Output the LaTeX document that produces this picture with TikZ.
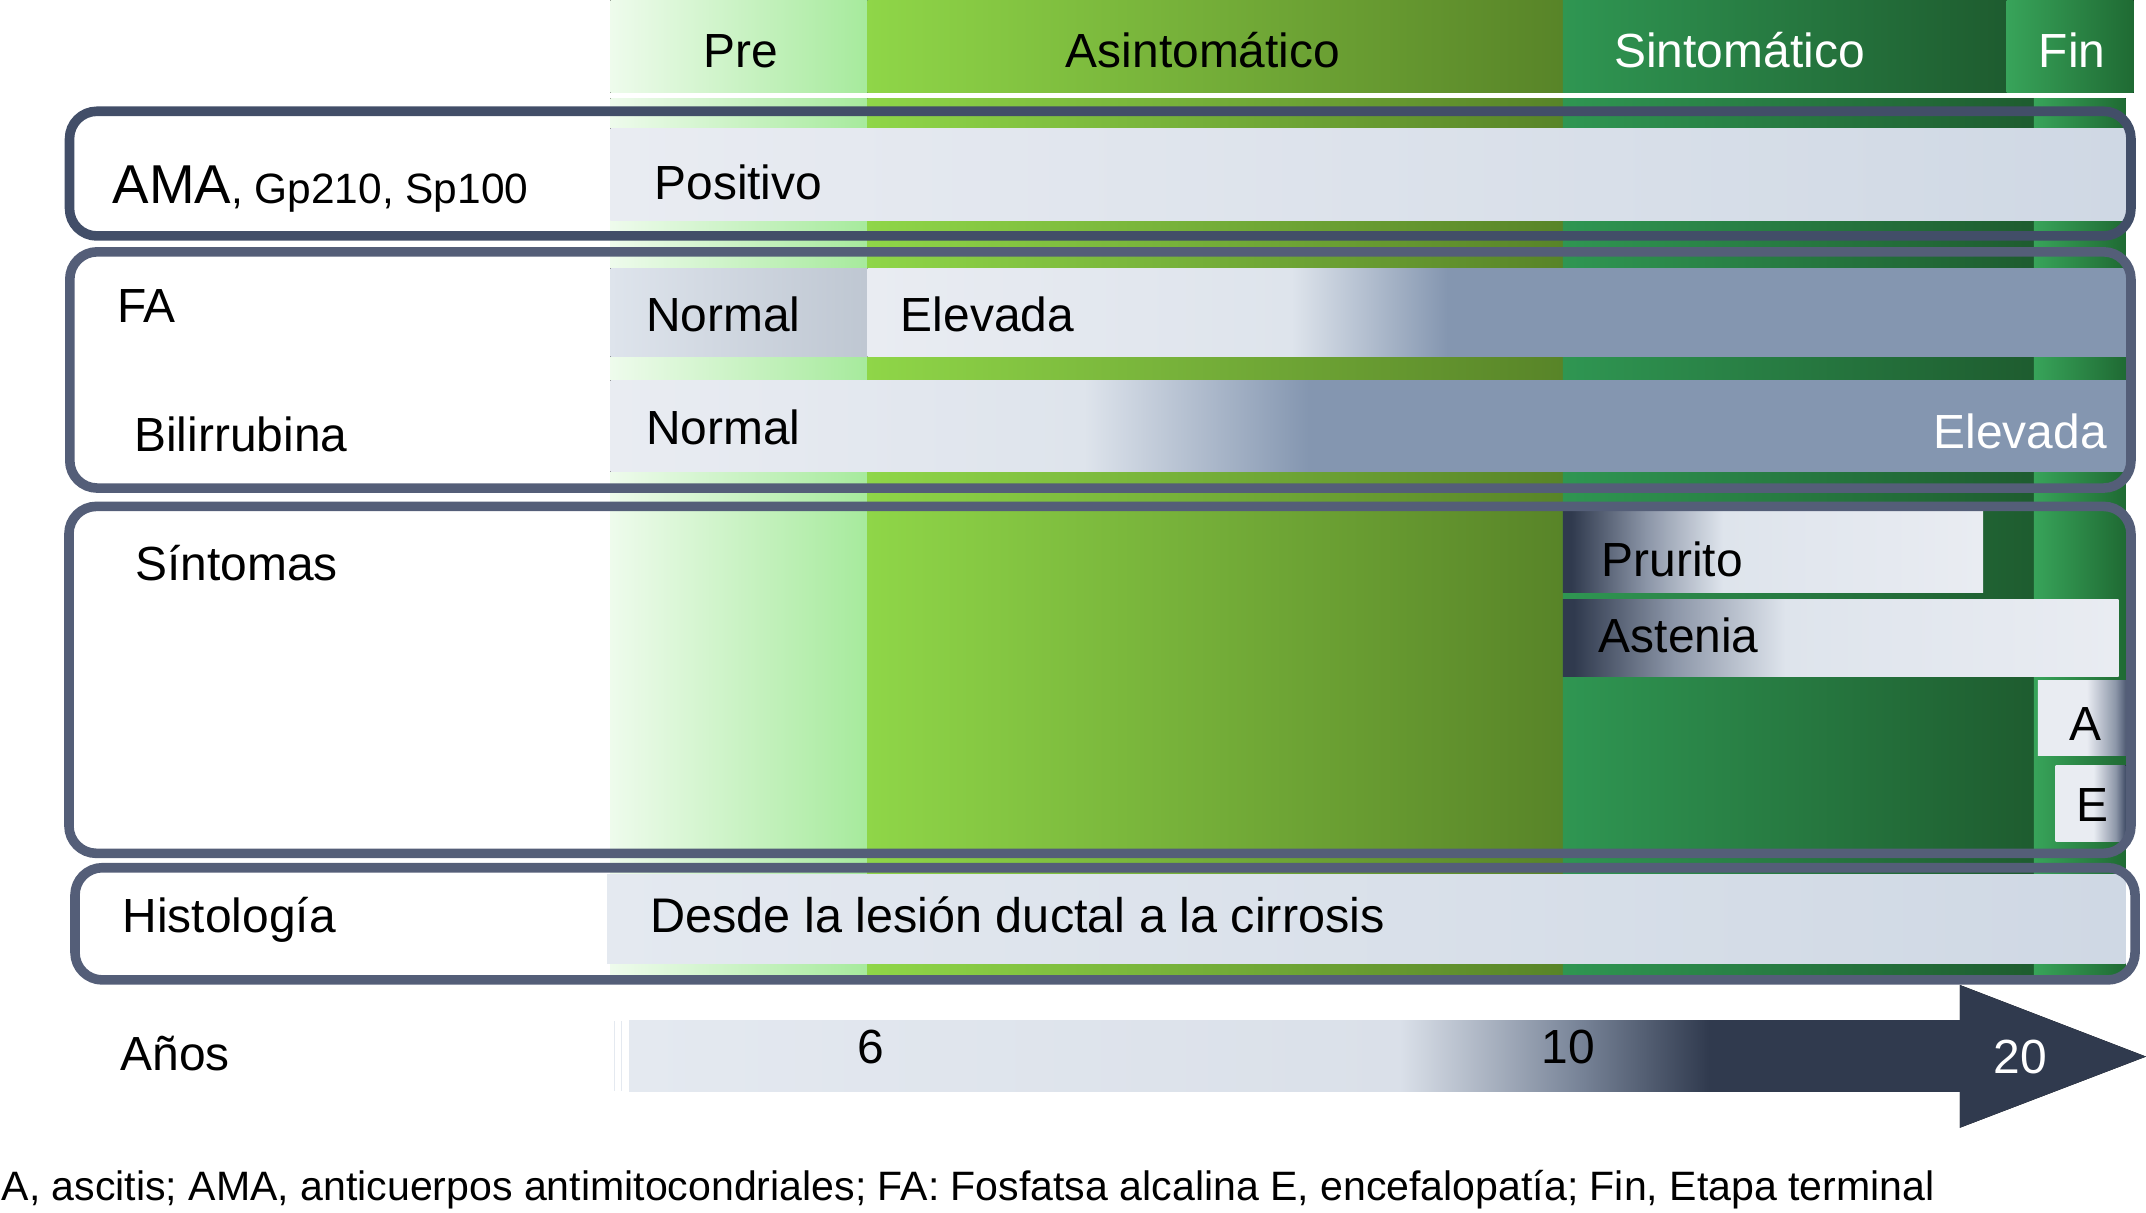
\documentclass[tikz,border=0pt]{standalone}
\usepackage{fontspec}
\setmainfont{Liberation Sans}
\definecolor{preL}{RGB}{238,251,236}
\definecolor{preR}{RGB}{166,234,156}
\definecolor{asL}{RGB}{143,214,72}
\definecolor{asR}{RGB}{88,132,40}
\definecolor{siL}{RGB}{47,150,82}
\definecolor{siR}{RGB}{30,92,47}
\definecolor{fiL}{RGB}{56,164,90}
\definecolor{fiR}{RGB}{31,106,51}
\definecolor{boxA}{RGB}{66,78,104}
\definecolor{boxB}{RGB}{84,94,120}
\definecolor{barA}{RGB}{233,236,242}
\definecolor{barB}{RGB}{207,216,228}
\definecolor{barC}{RGB}{222,228,236}
\definecolor{steel}{RGB}{132,150,176}
\definecolor{slate}{RGB}{48,58,78}
\definecolor{midg}{RGB}{140,150,168}
\definecolor{arL}{RGB}{228,233,240}
\definecolor{arM}{RGB}{218,224,233}
\definecolor{arMid}{RGB}{120,132,152}
\pgfdeclarehorizontalshading{faelev}{100bp}{color(0bp)=(barA); color(25bp)=(barA); color(41.8bp)=(barC); color(48bp)=(steel); color(100bp)=(steel)}
\pgfdeclarehorizontalshading{bilish}{100bp}{color(0bp)=(barA); color(25bp)=(barA); color(40.6bp)=(barC); color(48bp)=(steel); color(100bp)=(steel)}
\pgfdeclarehorizontalshading{prursh}{100bp}{color(0bp)=(slate); color(25bp)=(slate); color(26bp)=(slate); color(35bp)=(midg); color(44bp)=(barC); color(75bp)=(barA); color(100bp)=(barA)}
\pgfdeclarehorizontalshading{astsh}{100bp}{color(0bp)=(slate); color(25bp)=(slate); color(26bp)=(slate); color(35bp)=(midg); color(45bp)=(barC); color(75bp)=(barA); color(100bp)=(barA)}
\pgfdeclarehorizontalshading{aesh}{100bp}{color(0bp)=(barA); color(25bp)=(barA); color(52bp)=(barA); color(68bp)=(midg); color(75bp)=(boxA); color(100bp)=(boxA)}
\pgfdeclarehorizontalshading{arrsh}{100bp}{color(0bp)=(arL); color(25bp)=(arL); color(50.4bp)=(arM); color(56.3bp)=(arMid); color(60.6bp)=(slate); color(100bp)=(slate)}
\begin{document}
\begin{tikzpicture}[x=1pt,y=-1pt,
  txt/.style={font=\fontsize{35}{42}\selectfont, inner sep=0pt},
  captxt/.style={font=\fontsize{30}{36}\selectfont, inner sep=0pt},
  boxline/.style={line width=7pt, rounded corners=20pt},
  ]
\useasboundingbox (0,0) rectangle (1568,886);
% header
\fill[left color=preL, right color=preR] (446,0) rectangle (634,67.7);
\fill[left color=asL, right color=asR] (634,0) rectangle (1142,67.7);
\fill[left color=siL, right color=siR] (1142,0) rectangle (1466,67.7);
\fill[left color=fiL, right color=fiR] (1466,0) rectangle (1559,67.7);
% body columns
\fill[left color=preL, right color=preR] (446,71.8) rectangle (634,713);
\fill[left color=asL, right color=asR] (634,71.8) rectangle (1142,713);
\fill[left color=siL, right color=siR] (1142,71.8) rectangle (1486,713);
\fill[left color=fiL, right color=fiR] (1486,71.8) rectangle (1553,713);
% bars
\fill[left color=barA, right color=barB] (446,93.8) rectangle (1555,160.8);
\fill[left color=barC, right color=barB!92!black] (446,196) rectangle (634,260.6);
\fill[shading=faelev] (634,196) rectangle (1555,260.6);
\fill[shading=bilish] (446,277.7) rectangle (1555,344.7);
\fill[shading=prursh] (1142,374) rectangle (1449,433);
\fill[shading=astsh] (1142,437.7) rectangle (1548,494);
\fill[shading=aesh] (1489,497) rectangle (1555,552);
\fill[shading=aesh] (1502,559) rectangle (1553,615);
\fill[left color=arL, right color=barB] (443.6,638.6) rectangle (1553,703.8);
% arrow
\fill[shading=arrsh] (460,745.3) -- (1432,745.3) -- (1432,719.7) -- (1568,772) -- (1432,824) -- (1432,797.7) -- (460,797.7) -- cycle;
\draw[arL, line width=1.2pt] (449,746) -- (449,797);
\draw[arL, line width=1.2pt] (454,746) -- (454,797);
% boxes
\draw[boxline, boxA] (50.8,81.3) rectangle (1557,172.4);
\draw[boxline, boxB] (51,184) rectangle (1557,356.6);
\draw[boxline, boxB] (50.4,370) rectangle (1557,623.5);
\draw[boxline, boxB] (54.8,634) rectangle (1560,716);
% header texts
\node[txt, anchor=base] (hpre) at (541,49) {Pre};
\node[txt, anchor=base] (hasin) at (879,49) {Asintomático};
\node[txt, anchor=base, text=white] (hsint) at (1271,49) {Sintomático};
\node[txt, anchor=base, text=white] (hfin) at (1514,49) {Fin};
% row labels
\node[txt, anchor=base west] (ama) at (82,149) {\fontsize{40}{46}\selectfont AMA\fontsize{31}{36}\selectfont, Gp210, Sp100};
\node[txt, anchor=base west] (fa) at (85.5,236) {FA};
\node[txt, anchor=base west] (bili) at (98,330) {Bilirrubina};
\node[txt, anchor=base west] (sinto) at (98.8,424) {Síntomas};
\node[txt, anchor=base west] (hist) at (89.5,681) {Histología};
\node[txt, anchor=base west] (anos) at (88,782) {Años};
% bar texts
\node[txt, anchor=base west] (pos) at (478,146) {Positivo};
\node[txt, anchor=base west] (fanorm) at (472,242.4) {Normal};
\node[txt, anchor=base west] (faelevt) at (658,242.4) {Elevada};
\node[txt, anchor=base west] (binorm) at (472,325) {Normal};
\node[txt, anchor=base east, text=white] (bielev) at (1539.5,327.5) {Elevada};
\node[txt, anchor=base west] (prur) at (1170,421.4) {Prurito};
\node[txt, anchor=base west] (aste) at (1168,477) {Astenia};
\node[txt, anchor=base] (asc) at (1524,540.7) {A};
\node[txt, anchor=base] (enc) at (1529,600) {E};
\node[txt, anchor=base west, font=\fontsize{35.5}{42}\selectfont] (desde) at (475,681) {Desde la lesión ductal a la cirrosis};
% years
\node[txt, anchor=base] (y6) at (636,777.3) {6};
\node[txt, anchor=base] (y10) at (1146,777.3) {10};
\node[txt, anchor=base, text=white] (y20) at (1476,784.5) {20};
% caption
\node[captxt, anchor=base west] (caption) at (1,877) {A, ascitis; AMA, anticuerpos antimitocondriales; FA: Fosfatsa alcalina E, encefalopatía; Fin, Etapa terminal};
\end{tikzpicture}
\end{document}
